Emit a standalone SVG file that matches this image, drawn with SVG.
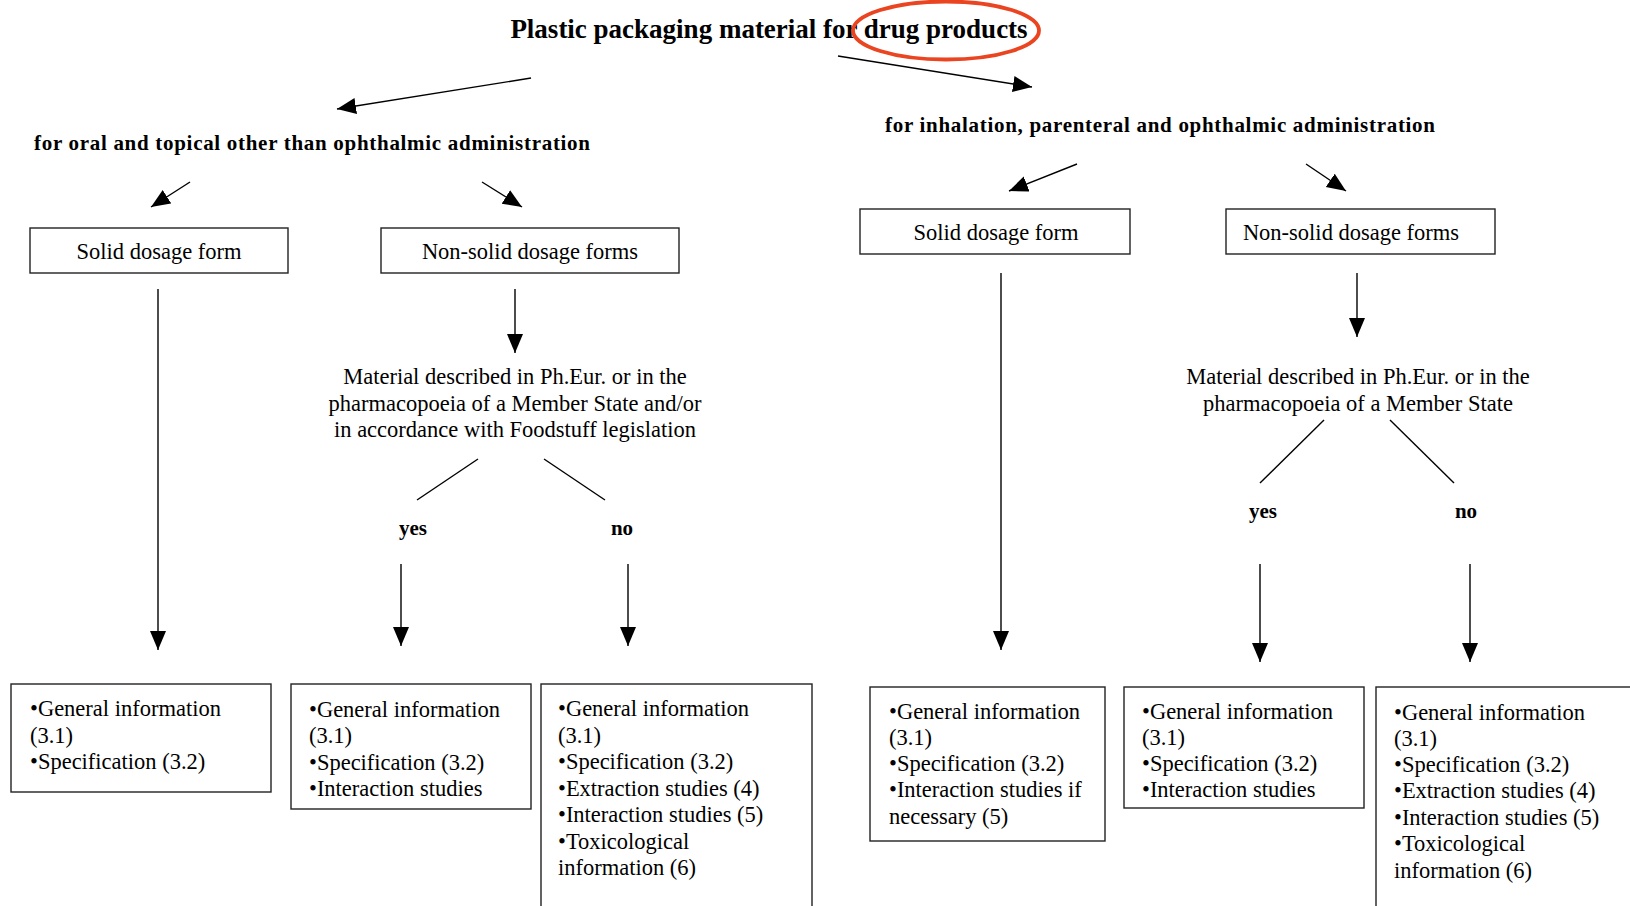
<svg xmlns="http://www.w3.org/2000/svg" width="1630" height="906" viewBox="0 0 1630 906">
<style>
text{font-family:"Liberation Serif","Times New Roman",serif;fill:#000}
.t{font-size:27px;font-weight:bold}
.sub{font-size:21px;font-weight:bold}
.yn{font-size:21px;font-weight:bold;text-anchor:middle}
.lbl{font-size:22.5px;text-anchor:middle}
.body{font-size:22.5px}
.box{fill:#fff;stroke:#222;stroke-width:1.4}
.ln{stroke:#000;stroke-width:1.4;fill:none}
.arr{stroke:#000;stroke-width:1.4;fill:none;marker-end:url(#ah)}
</style>
<defs>
<marker id="ah" markerUnits="userSpaceOnUse" markerWidth="22" markerHeight="18" refX="19" refY="8" orient="auto">
<path d="M0,0 L19,8 L0,16 z" fill="#000"/>
</marker>
</defs>
<rect width="1630" height="906" fill="#fff"/>

<g id="title">
<text class="t" x="769" y="38" text-anchor="middle">Plastic packaging material for drug products</text>
<ellipse cx="946" cy="30.5" rx="93" ry="29" fill="none" stroke="#ea4420" stroke-width="3.8"/>
</g>

<g id="sub-left"><text class="sub" x="34" y="150" textLength="556" lengthAdjust="spacing">for oral and topical other than ophthalmic administration</text></g>
<g id="sub-right"><text class="sub" x="885" y="132" textLength="550" lengthAdjust="spacing">for inhalation, parenteral and ophthalmic administration</text></g>

<g id="solid-left"><rect class="box" x="30" y="228" width="258" height="45"/><text class="lbl" x="159" y="259">Solid dosage form</text></g>
<g id="nonsolid-left"><rect class="box" x="381" y="228" width="298" height="45"/><text class="lbl" x="530" y="259">Non-solid dosage forms</text></g>
<g id="solid-right"><rect class="box" x="860" y="209" width="270" height="45"/><text class="lbl" x="996" y="240">Solid dosage form</text></g>
<g id="nonsolid-right"><rect class="box" x="1226" y="209" width="269" height="45"/><text class="lbl" x="1351" y="240">Non-solid dosage forms</text></g>

<g id="material-left">
<text class="lbl" x="515" y="384">Material described in Ph.Eur. or in the</text>
<text class="lbl" x="515" y="411">pharmacopoeia of a Member State and/or</text>
<text class="lbl" x="515" y="437">in accordance with Foodstuff legislation</text>
</g>
<g id="material-right">
<text class="lbl" x="1358" y="384">Material described in Ph.Eur. or in the</text>
<text class="lbl" x="1358" y="411">pharmacopoeia of a Member State</text>
</g>

<g id="yes-left"><text class="yn" x="413" y="535">yes</text></g>
<g id="no-left"><text class="yn" x="622" y="535">no</text></g>
<g id="yes-right"><text class="yn" x="1263" y="518">yes</text></g>
<g id="no-right"><text class="yn" x="1466" y="518">no</text></g>

<g id="connectors">
<line class="arr" x1="531" y1="78" x2="337" y2="109"/>
<line class="arr" x1="838" y1="56" x2="1032" y2="87"/>
<line class="arr" x1="190" y1="182" x2="151" y2="207"/>
<line class="arr" x1="482" y1="182" x2="522" y2="207"/>
<line class="arr" x1="1077" y1="164" x2="1009" y2="191"/>
<line class="arr" x1="1306" y1="164" x2="1346" y2="191"/>
<line class="arr" x1="158" y1="289" x2="158" y2="650"/>
<line class="arr" x1="515" y1="289" x2="515" y2="353"/>
<line class="arr" x1="1001" y1="273" x2="1001" y2="650"/>
<line class="arr" x1="1357" y1="273" x2="1357" y2="337"/>
<line class="ln" x1="478" y1="459" x2="417" y2="500"/>
<line class="ln" x1="544" y1="459" x2="605" y2="500"/>
<line class="ln" x1="1324" y1="420" x2="1260" y2="483"/>
<line class="ln" x1="1390" y1="420" x2="1454" y2="483"/>
<line class="arr" x1="401" y1="564" x2="401" y2="646"/>
<line class="arr" x1="628" y1="564" x2="628" y2="646"/>
<line class="arr" x1="1260" y1="564" x2="1260" y2="662"/>
<line class="arr" x1="1470" y1="564" x2="1470" y2="662"/>
</g>

<g id="res-1"><rect class="box" x="11" y="684" width="260" height="108"/>
<text class="body" x="30" y="716">•General information</text>
<text class="body" x="30" y="743">(3.1)</text>
<text class="body" x="30" y="769">•Specification (3.2)</text></g>

<g id="res-2"><rect class="box" x="291" y="684" width="240" height="125"/>
<text class="body" x="309" y="717">•General information</text>
<text class="body" x="309" y="743">(3.1)</text>
<text class="body" x="309" y="770">•Specification (3.2)</text>
<text class="body" x="309" y="796">•Interaction studies</text></g>

<g id="res-3"><rect class="box" x="541" y="684" width="271" height="230"/>
<text class="body" x="558" y="716">•General information</text>
<text class="body" x="558" y="743">(3.1)</text>
<text class="body" x="558" y="769">•Specification (3.2)</text>
<text class="body" x="558" y="796">•Extraction studies (4)</text>
<text class="body" x="558" y="822">•Interaction studies (5)</text>
<text class="body" x="558" y="849">•Toxicological</text>
<text class="body" x="558" y="875">information (6)</text></g>

<g id="res-4"><rect class="box" x="870" y="687" width="235" height="154"/>
<text class="body" x="889" y="719">•General information</text>
<text class="body" x="889" y="745">(3.1)</text>
<text class="body" x="889" y="771">•Specification (3.2)</text>
<text class="body" x="889" y="797">•Interaction studies if</text>
<text class="body" x="889" y="824">necessary (5)</text></g>

<g id="res-5"><rect class="box" x="1124" y="687" width="240" height="121"/>
<text class="body" x="1142" y="719">•General information</text>
<text class="body" x="1142" y="745">(3.1)</text>
<text class="body" x="1142" y="771">•Specification (3.2)</text>
<text class="body" x="1142" y="797">•Interaction studies</text></g>

<g id="res-6"><rect class="box" x="1376" y="687" width="270" height="230"/>
<text class="body" x="1394" y="720">•General information</text>
<text class="body" x="1394" y="746">(3.1)</text>
<text class="body" x="1394" y="772">•Specification (3.2)</text>
<text class="body" x="1394" y="798">•Extraction studies (4)</text>
<text class="body" x="1394" y="825">•Interaction studies (5)</text>
<text class="body" x="1394" y="851">•Toxicological</text>
<text class="body" x="1394" y="878">information (6)</text></g>
</svg>
